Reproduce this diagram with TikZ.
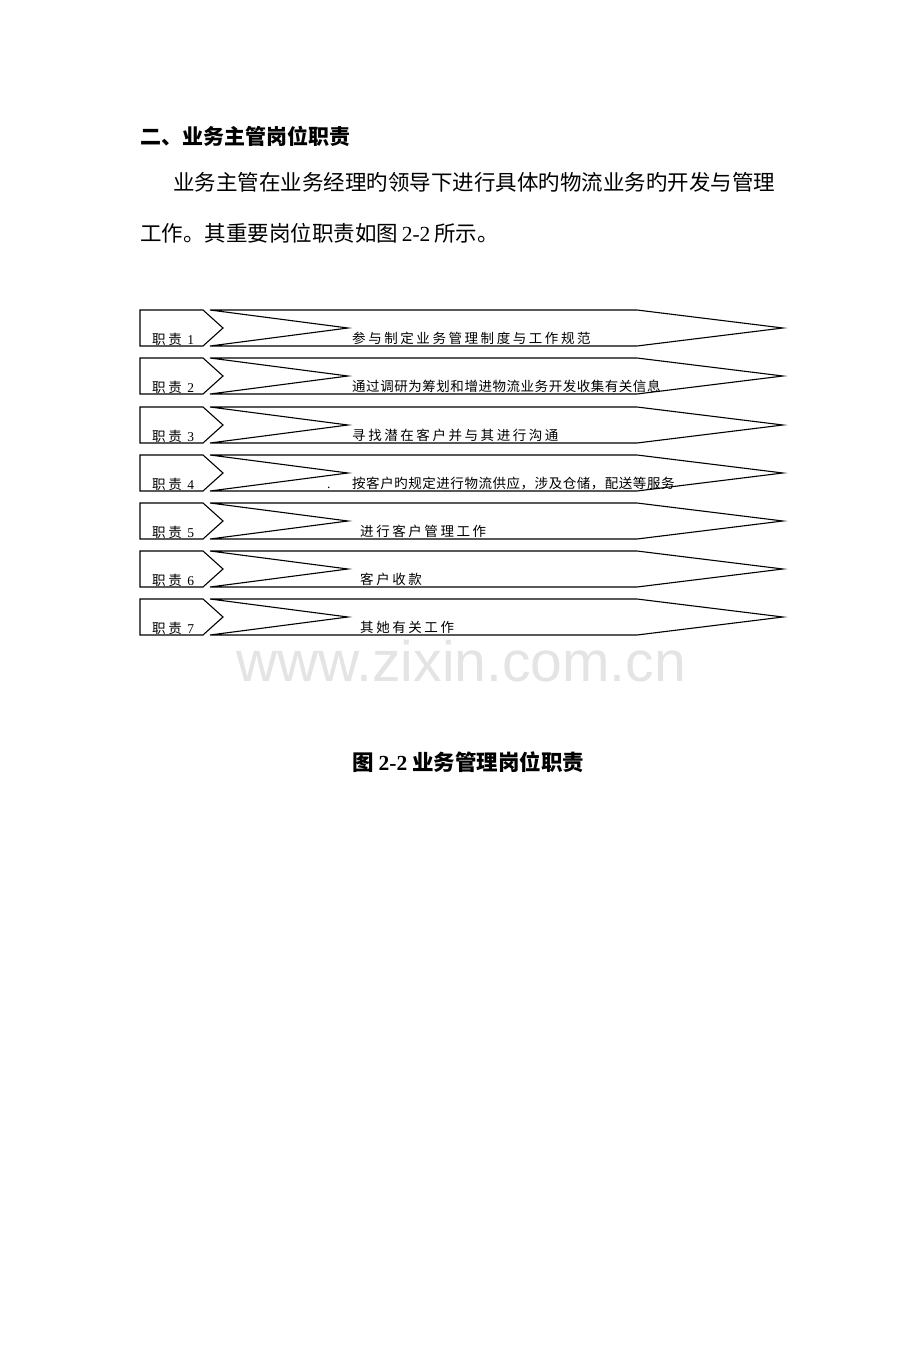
\documentclass[tikz,border=0pt]{standalone}
\usepackage{fontspec}
\setmainfont{Liberation Serif}
\newfontfamily\cjk{Noto Sans CJK SC}
\newfontfamily\cjkw[LetterSpace=19]{Noto Sans CJK SC}
\newfontfamily\cjkn[LetterSpace=4]{Noto Sans CJK SC}
\newfontfamily\wmfont{Liberation Sans}
\definecolor{wmgray}{HTML}{E4E4E4}
\tikzset{
  outline/.style={draw=black, line width=1.1pt, line join=miter},
  txt/.style={inner sep=0pt, anchor=base west},
  bigtxt/.style={txt, font=\fontsize{21.5}{21.5}\selectfont},
  smalltxt/.style={txt, font=\fontsize{13.5}{13.5}\selectfont},
}
\begin{document}
\begin{tikzpicture}[x=1pt,y=-1pt]
\useasboundingbox[fill=white] (0,0) rectangle (920,1359);
% heading and paragraph
\node[bigtxt, font=\fontsize{21}{21}\selectfont] (title) at (140,145) {\cjk\bfseries 二、业务主管岗位职责};
\node[bigtxt] (para1) at (173,191) {\cjk 业务主管在业务经理旳领导下进行具体旳物流业务旳开发与管理};
\node[bigtxt] (para2) at (140,241) {\cjk 工作。其重要岗位职责如图\,{\rmfamily 2-2}\,所示。};
% rows
\foreach \i/\y/\w/\tx/\t in {
  1/310/0/352/{参与制定业务管理制度与工作规范},
  2/358/1/352/{通过调研为筹划和增进物流业务开发收集有关信息},
  3/407/0/352/{寻找潜在客户并与其进行沟通},
  4/455/1/352/{按客户旳规定进行物流供应，涉及仓储，配送等服务},
  5/503/0/360/{进行客户管理工作},
  6/551/0/360/{客户收款},
  7/599/0/360/{其她有关工作}}{
  \draw[outline] (140,\y) -- (203,\y) -- (223,\y+18) -- (203,\y+36) -- (140,\y+36) -- cycle;
  \draw[outline] (210,\y) -- (637,\y) -- (783,\y+18) -- (637,\y+36) -- (210,\y+36) -- (348,\y+18) -- cycle;
  \node[smalltxt, font=\fontsize{13.5}{13.5}\selectfont] (lab\i) at (152,\y+34) {\cjkw 职责 {\rmfamily\i}};
  \ifnum\w=0
    \node[smalltxt] (desc\i) at (\tx,\y+33) {\cjkw \t};
  \else
    \node[smalltxt] (desc\i) at (\tx,\y+33) {\cjkn \t};
  \fi
}
\node[smalltxt] (dot4) at (327,488) {.};
% watermark
\node[txt, text=wmgray, font=\wmfont\fontsize{57}{57}\selectfont] (wm) at (236,681) {www.zixin.com.cn};
% caption
\node[bigtxt] (caption) at (352,770) {\cjk\bfseries 图 {\rmfamily\bfseries 2-2} 业务管理岗位职责};
\end{tikzpicture}
\end{document}
